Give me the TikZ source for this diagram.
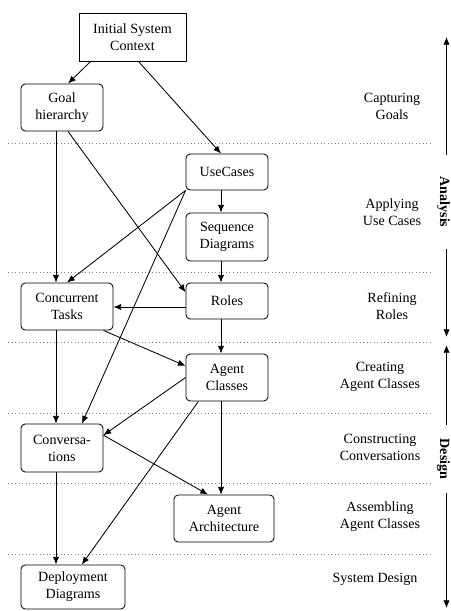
\documentclass[tikz,border=0pt]{standalone}
\usepackage{fontspec}
\setmainfont{Liberation Serif}
\usetikzlibrary{arrows.meta}

\begin{document}
\begin{tikzpicture}[x=0.025cm,y=-0.025cm,
    font=\fontsize{10}{12}\selectfont,
    >={Latex[length=5.5pt,width=4.5pt]},
    stagebox/.style={draw,rounded corners=3pt,align=center,inner sep=0pt,line width=0.6pt,
      minimum width=2.05cm,minimum height=1.175cm},
    phase/.style={align=center,inner sep=0pt},
    sidelabel/.style={rotate=-90,inner sep=0pt,font=\fontsize{10}{12}\selectfont\bfseries},
    divider/.style={dotted,gray,line width=0.5pt},
    flow/.style={->,line width=0.6pt}]
          \useasboundingbox (0,0) rectangle (450,611);
          \draw[divider] (8,143) -- (433,143);
          \draw[divider] (8,272) -- (433,272);
          \draw[divider] (8,342) -- (433,342);
          \draw[divider] (8,413) -- (433,413);
          \draw[divider] (8,483) -- (433,483);
          \draw[divider] (8,554) -- (433,554);
          \node[draw,line width=0.6pt,align=center,inner sep=0pt,minimum width=2.675cm,minimum height=1.2cm] (init) at (132.5,37) {Initial System\\Context};
          \node[stagebox] (goal) at (62,107.5) {Goal\\hierarchy};
          \node[stagebox,minimum height=0.9cm] (usec) at (227,172) {UseCases};
          \node[stagebox,minimum height=1.2cm] (seq) at (227,237) {Sequence\\Diagrams};
          \node[stagebox,minimum width=2.3cm] (tasks) at (67,306.5) {Concurrent\\Tasks};
          \node[stagebox,minimum height=0.9cm] (roles) at (227,301) {Roles};
          \node[stagebox] (agent) at (227,377.5) {Agent\\Classes};
          \node[stagebox,minimum height=1.2cm] (conv) at (62,448) {Conversa-\\tions};
          \node[stagebox,minimum width=2.5cm] (arch) at (224,518.5) {Agent\\Architecture};
          \node[stagebox,minimum width=2.6cm,minimum height=1.1cm] (deploy) at (73,587) {Deployment\\Diagrams};
          \node[phase] (capgoals) at (392,106.5) {Capturing\\Goals};
          \node[phase] (applyuc) at (392,212.5) {Applying\\Use Cases};
          \node[phase] (refroles) at (392,306.5) {Refining\\Roles};
          \node[phase] (creagents) at (380,376.5) {Creating\\Agent Classes};
          \node[phase] (constconv) at (380,447) {Constructing\\Conversations};
          \node[phase] (assagents) at (380,516.5) {Assembling\\Agent Classes};
          \node[phase] (sysdesign) at (375,579) {System Design};
          \draw[flow] ([xshift=0.3cm]init.south west) -- ([xshift=0.15cm]goal.north);
          \draw[flow] ([xshift=0.15cm]init.south) -- ([xshift=-0.15cm]usec.north);
          \draw[flow] ([xshift=-0.15cm]goal.south) -- ([xshift=-0.15cm]goal.south |- tasks.north);
          \draw[flow] ([xshift=0.15cm]goal.south) -- ([yshift=0.22cm]roles.west);
          \draw[flow] (usec.south west) -- (tasks.north);
          \draw[flow] (usec.south west) -- ([xshift=0.5cm]conv.north);
          \draw[flow] ([xshift=-0.15cm]usec.south) -- ([xshift=-0.15cm]seq.north);
          \draw[flow] ([xshift=-0.15cm]seq.south) -- ([xshift=-0.15cm]roles.north);
          \draw[flow] ([yshift=-0.15cm]roles.west) -- ([yshift=-0.15cm]roles.west -| tasks.east);
          \draw[flow] ([xshift=-0.15cm]roles.south) -- ([xshift=-0.15cm]agent.north);
          \draw[flow] ([xshift=-0.25cm]tasks.south east) -- ([yshift=0.29cm]agent.west);
          \draw[flow] ([xshift=-0.15cm]conv.north |- tasks.south) -- ([xshift=-0.15cm]conv.north);
          \draw[flow] (agent.west) -- ([yshift=0.32cm]conv.east);
          \draw[flow] ([xshift=0.32cm]agent.south west) -- ([xshift=0.22cm]deploy.north);
          \draw[flow] ([xshift=-0.15cm]agent.south) -- ([xshift=-0.15cm]agent.south |- arch.north);
          \draw[flow] ([yshift=0.32cm]conv.east) -- ([xshift=-0.4cm]arch.north);
          \draw[flow] ([xshift=-0.15cm]conv.south) -- ([xshift=-0.15cm]conv.south |- deploy.north);
          \node[sidelabel,minimum width=2.325cm] (analysis) at (443.5,202) {Analysis};
          \node[sidelabel,minimum width=1.7cm] (design) at (443.5,459) {Design};
          \coordinate (antop) at (446.5,37);
          \coordinate (anbot) at (446.5,337);
          \coordinate (destop) at (446.5,345);
          \coordinate (desbot) at (446.5,608);
          \draw[flow] (analysis.west -| antop) -- (antop);
          \draw[flow] (analysis.east -| anbot) -- (anbot);
          \draw[flow] (design.west -| destop) -- (destop);
          \draw[flow] (design.east -| desbot) -- (desbot);
        \end{tikzpicture}
\end{document}
